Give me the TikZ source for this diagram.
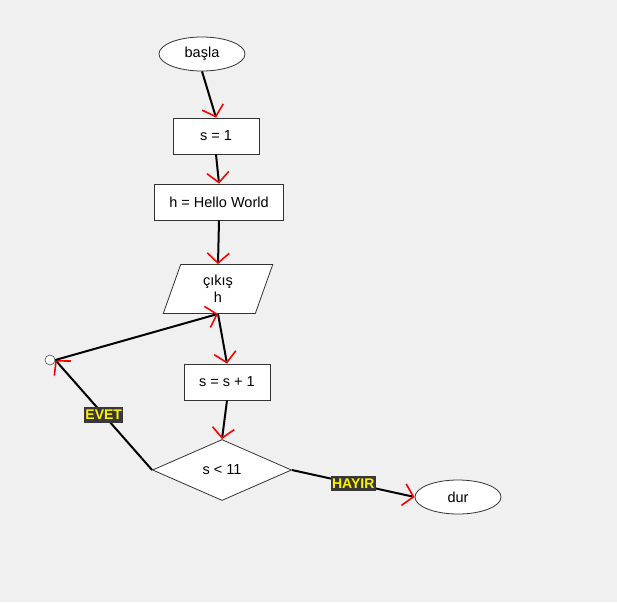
\documentclass[tikz,border=0pt]{standalone}
\usepackage{fontspec}
\setmainfont{Liberation Sans}
\usetikzlibrary{shapes.geometric,arrows.meta}

\tikzset{
  blok/.style={draw=black!80, fill=white, line width=0.8pt, minimum width=86pt, minimum height=36pt, inner sep=2pt},
  uc/.style={ellipse, draw=black!80, fill=white, line width=0.8pt, minimum width=86pt, minimum height=34pt},
  cikti/.style={trapezium, trapezium left angle=76, trapezium right angle=104, trapezium stretches=true, draw=black!80, fill=white, line width=0.8pt, minimum width=110pt, minimum height=49pt, align=center},
  karar/.style={diamond, aspect=2.28, draw=black!80, fill=white, line width=0.8pt, minimum width=139pt, minimum height=61pt, inner sep=0pt},
  ok/.style={line width=2pt, -{Straight Barb[color=red, length=10pt, width=22pt, line width=1.6pt]}},
  etiket/.style={fill=black!78, text=yellow, font=\bfseries\fontsize{14}{15}\selectfont, inner xsep=1.5pt, inner ysep=3pt}
}

\begin{document}
\begin{tikzpicture}[x=1pt, y=-1pt, font=\fontsize{14.5}{17}\selectfont]
		\fill[black!6] (0, 0) rectangle (617, 602);
		\useasboundingbox (0, 0) rectangle (617, 602);
		\node[uc] (basla) at (202, 54) {başla};
		\node[blok] (s1) at (216, 136) {s = 1};
		\node[blok, minimum width=129pt] (hw) at (219, 202) {h = Hello World};
		\node[cikti] (cik) at (218, 289) {çıkış\\h};
		\node[blok] (artir) at (227, 382) {s = s + 1};
		\node[karar] (kosul) at (222, 470) {s < 11};
		\node[uc] (dur) at (458, 497) {dur};
		\node[circle, draw=black!70, fill=white, line width=0.6pt, minimum size=10pt, inner sep=0pt] (don) at (50, 360) {};
		\draw[ok] (basla.south) -- (s1.north);
		\draw[ok] (s1.south) -- (hw.north);
		\draw[ok] (hw.south) -- (cik.north);
		\draw[ok] (cik.south) -- (artir.north);
		\draw[ok] (artir.south) -- (kosul.north);
		\draw[ok] (kosul.west) -- node[etiket] {EVET} (don.east);
		\draw[ok] (don.east) -- (cik.south);
		\draw[ok] (kosul.east) -- node[etiket] {HAYIR} (dur.west);
	\end{tikzpicture}
\end{document}
